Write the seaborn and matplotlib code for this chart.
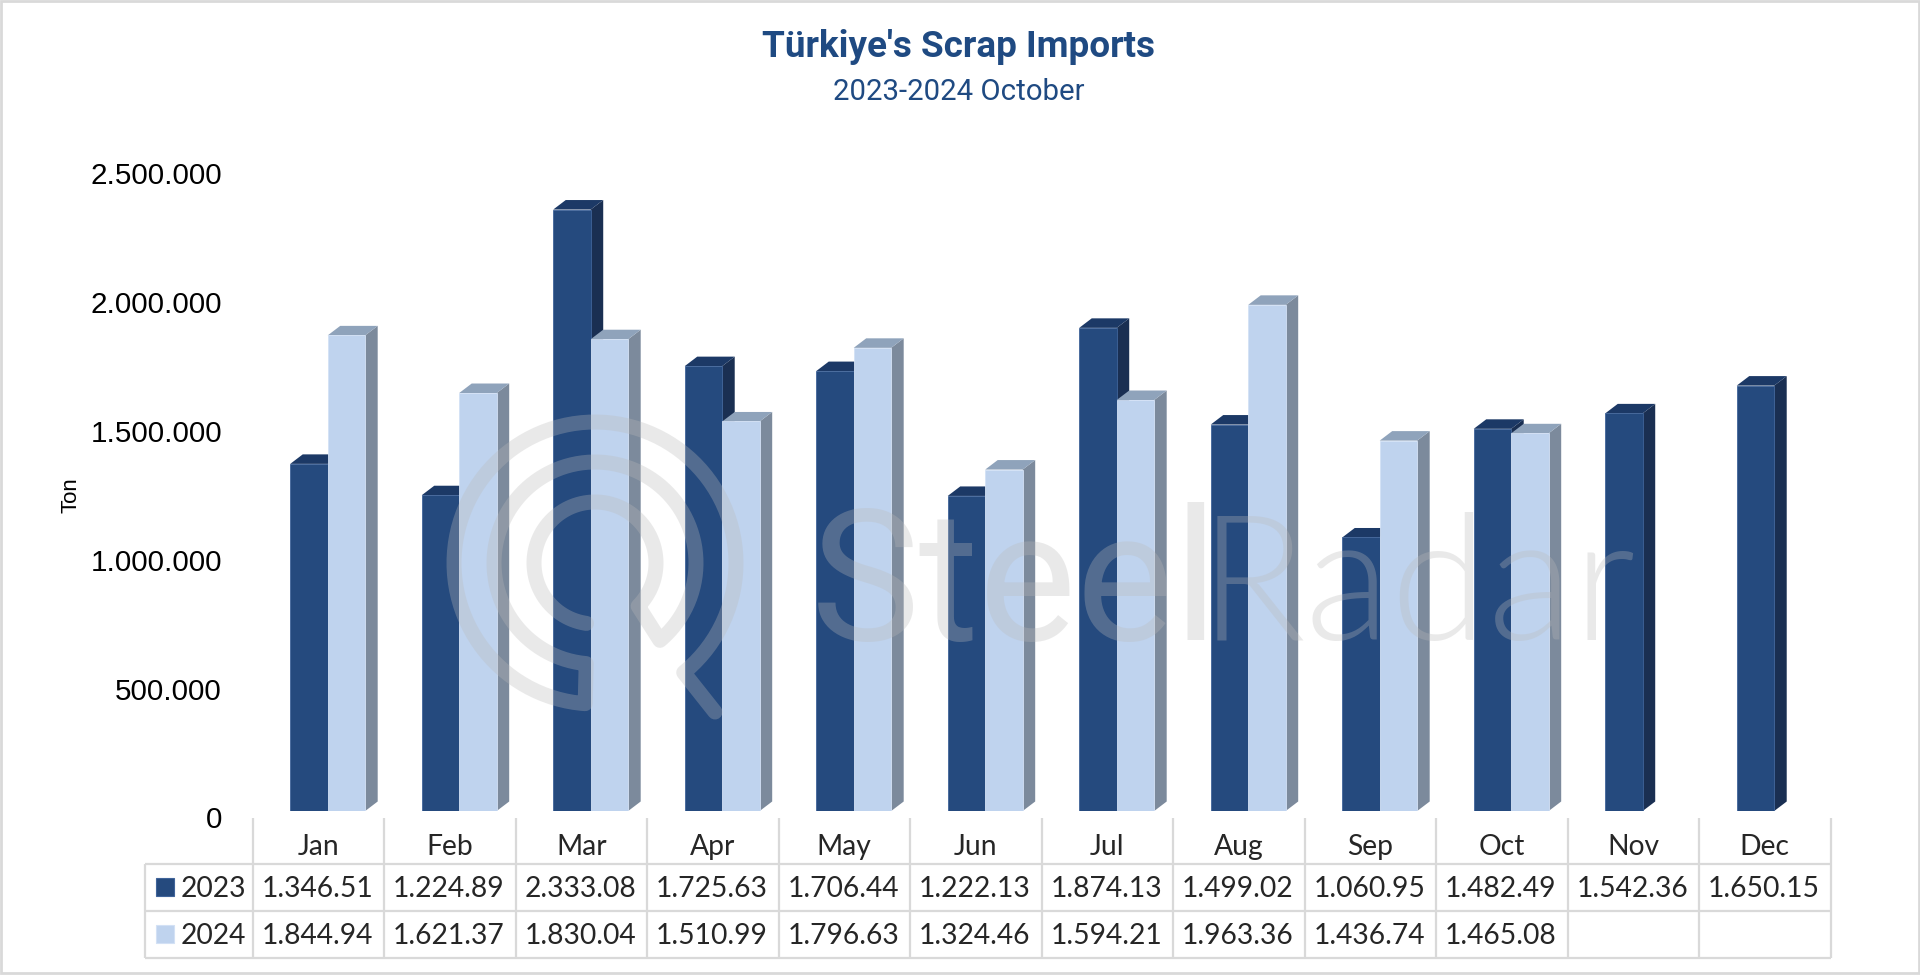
import numpy as np
import pandas as pd
import matplotlib
matplotlib.use('Agg')
import matplotlib.pyplot as plt
import seaborn as sns
from matplotlib.patches import Polygon, Rectangle
from matplotlib.transforms import ScaledTranslation

months = ['Jan', 'Feb', 'Mar', 'Apr', 'May', 'Jun', 'Jul', 'Aug', 'Sep', 'Oct', 'Nov', 'Dec']
imports_2023 = [1346510, 1224890, 2333080, 1725630, 1706440, 1222130, 1874130, 1499020, 1060950, 1482490, 1542360, 1650150]
imports_2024 = [1844940, 1621370, 1830040, 1510990, 1796630, 1324460, 1594210, 1963360, 1436740, 1465080, np.nan, np.nan]
labels_2023 = ['1.346.51', '1.224.89', '2.333.08', '1.725.63', '1.706.44', '1.222.13', '1.874.13', '1.499.02', '1.060.95', '1.482.49', '1.542.36', '1.650.15']
labels_2024 = ['1.844.94', '1.621.37', '1.830.04', '1.510.99', '1.796.63', '1.324.46', '1.594.21', '1.963.36', '1.436.74', '1.465.08', '', '']
y_ticks = [0, 500000, 1000000, 1500000, 2000000, 2500000]
y_labels = ['0', '500.000', '1.000.000', '1.500.000', '2.000.000', '2.500.000']

W, H = 1920, 975
FRONT = ['#254a7e', '#bfd3ee']
SIDE = ['#1a2f52', '#7c8a9c']
TOP = ['#1c3966', '#8fa3bb']
EDGE = ['#40649a', '#d3e1f5']
TITLE = '#1f4a82'
GRID = '#d9d9d9'

sns.set_theme(style='white')
plt.rcParams['font.family'] = ['Lato', 'DejaVu Sans']


def px_axes(left, top, right, bottom, **kw):
    return fig.add_axes([left / W, 1 - bottom / H, (right - left) / W, (bottom - top) / H], **kw)


fig = plt.figure(figsize=(W / 100, H / 100), dpi=100, facecolor='white')

# main chart, axis 0 sits at y=811 and 2.5M at y=166.5
ax = px_axes(252.5, 166.5, 1830.5, 811)
df = pd.DataFrame({'month': months * 2,
                   'value': imports_2023 + imports_2024,
                   'year': ['2023'] * 12 + ['2024'] * 12})
sns.barplot(data=df, x='month', y='value', hue='year', palette=FRONT, saturation=1,
            width=0.57, gap=0, legend=False, ax=ax)
ax.set_xlim(-0.572, 11.428)
ax.set_ylim(0, 2500000)

# fake the 3d look off the real bar geometry
dx = 12.5 / 131.5
dy = 9.5 / 644.5 * 2500000
for i, cont in enumerate(ax.containers):
    for bar in cont:
        h = bar.get_height()
        if np.isnan(h) or h == 0:
            continue
        x0, x1 = bar.get_x(), bar.get_x() + bar.get_width()
        bar.set_zorder(2.2 + i)
        bar.set_edgecolor(EDGE[i])
        bar.set_linewidth(0.6)
        ax.add_patch(Polygon([(x1, 0), (x1 + dx, dy), (x1 + dx, h + dy), (x1, h)],
                             facecolor=SIDE[i], edgecolor='none', zorder=2 + i, clip_on=False))
        ax.add_patch(Polygon([(x0, h), (x0 + dx, h + dy), (x1 + dx, h + dy), (x1, h)],
                             facecolor=TOP[i], edgecolor='none', zorder=2.1 + i, clip_on=False))

ax.set_xlabel('')
ax.set_xticks([])
ax.set_yticks(y_ticks)
ax.set_yticklabels(y_labels, fontsize=21.3, family='Liberation Sans', color='black')
ax.tick_params(axis='y', length=0, pad=22)
shift = ScaledTranslation(0, -6.5 / 100, fig.dpi_scale_trans)
for lab in ax.get_yticklabels():
    lab.set_transform(lab.get_transform() + shift)
ax.set_ylabel('Ton', fontsize=16, family='Liberation Sans', color='black')
ax.yaxis.set_label_coords((82 - 252.5) / 1578, (811 - 495) / 644.5)
sns.despine(ax=ax, left=True, bottom=True)
ax.patch.set_alpha(0)

# overlay in pixel coords for the table grid, titles, swatches, frame, watermark
ov = fig.add_axes([0, 0, 1, 1], zorder=10)
ov.set_xlim(0, W)
ov.set_ylim(H, 0)
ov.axis('off')
ov.patch.set_alpha(0)

col_edges = 252.5 + 131.5 * np.arange(13)
row_edges = [818, 864, 911, 958]
ov.vlines(col_edges, 818, 958, color=GRID, lw=1.6)
ov.vlines(145, 864, 958, color=GRID, lw=1.6)
ov.hlines(row_edges[1:], 145, col_edges[-1], color=GRID, lw=1.6)
for x, r0, r1, r2 in zip(col_edges[:-1] + 65.75, months, labels_2023, labels_2024):
    ov.text(x, 847, r0, ha='center', va='center', fontsize=20.3)
    ov.text(x - 1, 889, r1, ha='center', va='center', fontsize=20.3)
    ov.text(x - 1, 936, r2, ha='center', va='center', fontsize=20.3)
ov.text(246, 889, '2023', ha='right', va='center', fontsize=20.3)
ov.text(246, 936, '2024', ha='right', va='center', fontsize=20.3)

ov.text(959, 47, "Türkiye's Scrap Imports", ha='center', va='center', fontsize=26.6,
        fontweight='bold', family='Roboto', color=TITLE)
ov.text(959, 92, '2023-2024 October', ha='center', va='center', fontsize=21.2,
        family='Roboto', color=TITLE)

ov.add_patch(Rectangle((155.5, 878), 18, 18, facecolor=FRONT[0], edgecolor=EDGE[0], lw=0.8))
ov.add_patch(Rectangle((155.5, 925), 18, 18, facecolor=FRONT[1], edgecolor=EDGE[1], lw=0.8))
ov.add_patch(Rectangle((1, 1), W - 2, H - 3, facecolor='none', edgecolor=GRID, lw=2))

# watermark logo, one continuous spiral stroke
cx, cy = 595, 563
def arc(r, t0, t1):
    t = np.radians(np.linspace(t0, t1, 200))
    return np.column_stack([cx + r * np.cos(t), cy - r * np.sin(t)])

spiral = np.vstack([[[715, 712]],
                    arc(141, -51, 266),
                    arc(101, 265, -50),
                    arc(61, -45, 262)])
ov.plot(spiral[:, 0], spiral[:, 1], color='#bababa', alpha=0.31, lw=10.8,
        solid_capstyle='round', solid_joinstyle='round')

ov.text(811, 640, 'Steel', ha='left', va='baseline', fontsize=132, family='Roboto',
        color='#bababa', alpha=0.31)
ov.text(1199, 640, 'Radar', ha='left', va='baseline', fontsize=127, family='Lato',
        fontweight=300, color='#bababa', alpha=0.31)

fig.savefig('out.png', dpi=100)
